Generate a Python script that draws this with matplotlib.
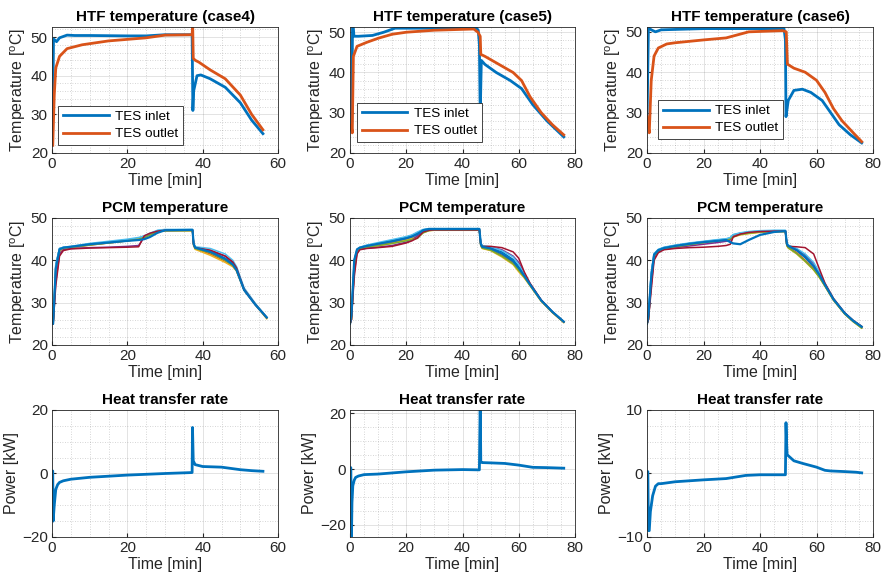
import matplotlib
matplotlib.use("Agg")
import matplotlib.pyplot as plt
from matplotlib.ticker import MultipleLocator

plt.rcParams['font.family'] = ['Liberation Sans', 'DejaVu Sans']
plt.rcParams['mathtext.fontset'] = 'custom'
plt.rcParams['mathtext.rm'] = 'Liberation Sans'

C_BLUE = '#0072BD'
C_ORANGE = '#D95319'
PCM_COLORS = ['#0072BD', '#D95319', '#EDB120', '#7E2F8E', '#77AC30', '#4DBEEE', '#A2142F', '#0072BD']

# ---------------- HTF temperature data ----------------
htf4_in_t = [0, 0.2, 0.4, 0.8, 1.2, 2, 4, 6, 10, 20, 25, 30, 37.2, 37.4, 37.6, 38.5, 39.5, 42, 46, 50, 53, 56]
htf4_in_T = [22, 30, 49.5, 49.2, 48.8, 49.8, 50.5, 50.4, 50.4, 50.3, 50.3, 50.6, 50.6, 31, 36, 40, 40.2, 39.2, 37, 33, 28.5, 25]
htf4_out_t = [0.2, 0.6, 1, 2, 4, 8, 15, 25, 30, 37.2, 37.35, 37.5, 38, 39, 42, 46, 50, 53, 56]
htf4_out_T = [22, 35, 42, 45, 47, 48, 49, 49.8, 50.5, 50.6, 53, 44.5, 44, 43.5, 41.5, 39.2, 35, 30, 26]

htf5_in_t = [0.6, 0.9, 1.1, 1.4, 3, 8, 12, 16, 30, 45, 45.6, 46.0, 46.3, 46.7, 48, 52, 57, 61, 65, 70, 76]
htf5_in_T = [26, 52, 52, 49, 49, 49.2, 50, 51, 51, 51, 50.5, 47, 29.5, 43, 42, 40, 38, 36, 32, 28, 24]
htf5_out_t = [0.2, 0.4, 0.8, 1.2, 2.5, 6, 10, 15, 20, 30, 44, 45.5, 46.3, 46.5, 48, 53, 58, 61, 64, 68, 72, 76]
htf5_out_T = [26, 27, 25, 44, 46.5, 47.5, 48.5, 49.5, 50, 50.5, 50.8, 50, 49, 44.5, 44, 42, 40, 38, 34, 30, 27, 24.5]

htf6_in_t = [0, 0.5, 1.5, 3, 5, 10, 20, 48.5, 49.0, 49.2, 50, 52, 55, 58, 62, 65, 68, 72, 76]
htf6_in_T = [27, 51, 50.5, 50, 50.5, 50.6, 50.8, 50.8, 48, 29, 33, 35.5, 35.8, 35, 33, 30, 27, 24.5, 22.5]
htf6_out_t = [0, 0.3, 0.8, 1.5, 2.5, 4, 7, 10, 20, 28, 36, 48, 49.3, 49.7, 52, 56, 60, 63, 66, 69, 73, 76]
htf6_out_T = [29, 27, 25, 38, 44, 46, 47, 47.3, 48, 48.5, 50, 50.3, 50, 42, 41, 40, 38, 35, 31, 28, 25, 22.8]

# ---------------- PCM temperature data ----------------
pcm4_t = [0, 0.3, 1, 2, 3, 5, 10, 15, 20, 23, 24.5, 26, 28, 30, 37.3, 37.6, 38, 42, 46, 48, 49, 51, 54, 57]
pcm4_T = [
    [25, 25, 39, 42.8, 43, 43.2, 43.8, 44.3, 44.8, 45.2, 45.6, 46.2, 47, 47.2, 47.2, 44, 43, 42.2, 40.5, 39.2, 37.8, 33, 29.5, 26.5],
    [25, 25, 37, 42, 42.8, 43, 43.6, 44.1, 44.6, 45, 45.4, 46, 46.8, 47, 47.1, 43.8, 42.8, 41.5, 39.8, 38.7, 37.5, 33, 29.6, 26.4],
    [25, 25, 37, 42, 42.7, 43, 43.7, 44.2, 44.7, 45.1, 45.5, 46.2, 46.8, 47, 47, 43.5, 42.6, 41.2, 39.5, 38.5, 37.5, 33, 29.5, 26.2],
    [25, 25, 35, 41.5, 42.5, 42.8, 43, 43.1, 43.3, 43.5, 45.5, 46.3, 46.9, 47.1, 47.1, 43.8, 43, 42.3, 41, 39.5, 38, 33, 29.5, 26.5],
    [25, 25, 38, 42.5, 42.9, 43.1, 43.6, 44.1, 44.6, 45.0, 45.4, 46, 46.8, 47, 47, 43.6, 42.8, 41.8, 40, 38.8, 37.6, 33, 29.6, 26.4],
    [25, 25, 39, 42.8, 43.1, 43.3, 44, 44.5, 45, 45.4, 45.8, 46.4, 47.1, 47.3, 47.3, 44.2, 43.2, 42.8, 41.5, 40, 38.5, 33.5, 29.8, 26.6],
    [25, 25, 34, 41, 42.3, 42.7, 42.9, 43, 43.1, 43.2, 45.8, 46.4, 46.9, 47.1, 47.1, 43.8, 43, 42.4, 41, 39.6, 38.2, 33.2, 29.6, 26.5],
    [25, 25, 38, 42.6, 43, 43.2, 43.8, 44.2, 44.6, 44.8, 45, 45.5, 46.5, 47.1, 47.2, 43.9, 43, 42, 40.3, 39, 37.7, 33, 29.5, 26.5],
]

pcm5_t = [0, 0.5, 1.5, 2.5, 3.5, 6, 10, 15, 20, 22, 24, 26, 28, 30, 46, 46.5, 47, 50, 54, 58, 60, 62, 64, 68, 72, 76]
pcm5_T = [
    [25, 27, 40, 42.5, 43, 43.5, 44, 44.6, 45.5, 45.9, 46.5, 47.2, 47.4, 47.4, 47.4, 44, 43.3, 43, 42, 40.2, 38.5, 36.5, 34.3, 30.5, 27.8, 25.5],
    [25, 26, 38, 42, 42.8, 43.2, 43.6, 44.2, 45, 45.5, 46.2, 47, 47.2, 47.3, 47.3, 43.6, 43, 42.5, 41.2, 39.5, 38, 36.2, 34.2, 30.5, 27.8, 25.4],
    [25, 26, 38, 42, 42.7, 43, 43.4, 44, 44.8, 45.2, 45.6, 46.5, 47, 47.1, 47.1, 43.4, 42.8, 42.3, 40.8, 39, 37.3, 35.8, 34, 30.3, 27.6, 25.3],
    [25, 26, 37, 41.8, 42.6, 42.9, 43.1, 43.5, 44.3, 44.8, 45.8, 46.8, 47.1, 47.2, 47.2, 43.8, 43.2, 43.1, 42.5, 41, 39.5, 37, 34.5, 30.6, 27.8, 25.5],
    [25, 26, 38, 42.2, 42.8, 43.1, 43.5, 44, 44.6, 44.9, 45.2, 46.5, 47, 47.2, 47.2, 43.5, 42.9, 42.4, 41, 39.2, 37.6, 36, 34.1, 30.4, 27.7, 25.4],
    [25, 27, 40, 42.6, 43.1, 43.6, 44.2, 44.9, 45.6, 46, 46.7, 47.3, 47.5, 47.5, 47.5, 44.2, 43.5, 43.2, 42.3, 40.8, 39, 36.8, 34.4, 30.6, 27.9, 25.6],
    [25, 26, 36, 41.5, 42.5, 42.8, 43, 43.3, 44.1, 44.6, 45.3, 46.7, 47.1, 47.2, 47.2, 43.8, 43.3, 43.3, 43, 42, 40.5, 37.2, 34.6, 30.6, 27.8, 25.5],
    [25, 27, 40, 42.6, 43, 43.4, 43.9, 44.5, 45.2, 45.6, 46.2, 47.1, 47.4, 47.4, 47.4, 43.9, 43.2, 42.8, 41.6, 39.8, 38.2, 36.3, 34.3, 30.5, 27.8, 25.5],
]

pcm6_t = [0, 0.5, 1.5, 2.5, 4, 6, 10, 15, 20, 25, 28, 29.5, 30.5, 33, 36, 40, 45, 49, 49.5, 50, 53, 56, 59, 61, 63, 66, 70, 73, 76]
pcm6_T = [
    [25, 27, 37, 41.5, 42.5, 43, 43.5, 44, 44.4, 44.8, 45, 45.3, 46, 46.4, 46.7, 46.9, 47, 47, 44, 43.5, 42.3, 40.6, 38.5, 36.5, 34.2, 30.8, 27.5, 25.7, 24.3],
    [25, 26, 35, 41, 42.3, 42.8, 43.3, 43.8, 44.2, 44.6, 44.9, 45.1, 45.7, 46.2, 46.5, 46.7, 46.8, 46.8, 43.6, 43.1, 41.8, 40, 38, 36.2, 34, 30.7, 27.4, 25.6, 24.2],
    [25, 26, 35, 41, 42.2, 42.7, 43.2, 43.7, 44.1, 44.5, 44.8, 45, 45.5, 46, 46.3, 46.6, 46.8, 46.8, 43.4, 42.9, 41.5, 39.7, 37.7, 36, 33.9, 30.6, 27.3, 25.5, 24],
    [25, 26, 34, 40.5, 42, 42.6, 43, 43.4, 43.8, 44.2, 44.5, 44.8, 45.8, 46.3, 46.6, 46.8, 46.9, 46.9, 43.8, 43.3, 42.6, 41.3, 39.2, 37, 34.3, 30.8, 27.5, 25.7, 24.3],
    [25, 26, 35, 41, 42.2, 42.8, 43.2, 43.7, 44.2, 44.6, 44.9, 45.1, 45.6, 46.1, 46.4, 46.7, 46.8, 46.8, 43.5, 43, 41.6, 39.8, 37.8, 36, 33.9, 30.6, 27.3, 25.5, 24],
    [25, 27, 37, 41.6, 42.6, 43.1, 43.6, 44.1, 44.5, 44.9, 45.1, 45.4, 46.1, 46.5, 46.8, 47, 47.1, 47.1, 44.2, 43.6, 42.8, 41.5, 39.5, 37.2, 34.5, 31, 27.6, 25.8, 24.4],
    [25, 26, 33, 40, 41.8, 42.5, 42.8, 43, 43.1, 43.3, 43.5, 43.8, 45.5, 46.2, 46.6, 46.8, 46.9, 46.9, 43.8, 43.3, 43.2, 43, 41.5, 38, 34.6, 31, 27.6, 25.8, 24.4],
    [25, 27, 36, 41.3, 42.4, 42.9, 43.4, 43.9, 44.3, 44.6, 44.8, 44.3, 44, 43.8, 44.8, 46, 46.7, 46.9, 43.9, 43.4, 42.4, 40.8, 38.6, 36.6, 34.2, 30.8, 27.5, 25.7, 24.3],
]

# ---------------- Heat transfer rate data ----------------
pow4_t = [0, 0.2, 0.3, 0.6, 1, 1.5, 2, 3, 5, 10, 20, 30, 37.2, 37.3, 37.5, 38, 40, 45, 50, 53, 56]
pow4_P = [0.8, 0.8, -15, -10, -5, -3.5, -2.8, -2.3, -1.8, -1.2, -0.5, 0, 0.3, 14.5, 4, 2.8, 2.2, 2, 1.2, 0.9, 0.7]

pow5_t = [0, 0.3, 0.5, 0.7, 1, 1.5, 2, 3, 5, 10, 20, 30, 40, 46, 46.3, 46.5, 47, 50, 55, 60, 65, 70, 76]
pow5_P = [0.5, 0.5, -26, -12, -6, -4, -3, -2.5, -2, -1.8, -1, -0.4, -0.2, -0.3, 25, 2.5, 2.3, 2.2, 2, 1.4, 0.6, 0.5, 0.3]

pow6_t = [0, 0.3, 0.5, 0.8, 1.2, 2, 3, 4, 5, 10, 20, 28, 35, 40, 49, 49.2, 49.4, 49.6, 50, 52, 55, 60, 63, 65, 70, 74, 76]
pow6_P = [0.3, 0.3, -9, -9, -6, -3.5, -2, -1.6, -1.6, -1.3, -1, -0.8, -0.3, -0.2, -0.2, 8, 5, 3, 2.8, 2, 1.6, 1, 0.5, 0.4, 0.3, 0.2, 0.1]

titles_top = ['HTF temperature (case4)', 'HTF temperature (case5)', 'HTF temperature (case6)']
xmax = [60, 80, 80]

W, H = 881, 584
fig = plt.figure(figsize=(W / 100, H / 100), dpi=100)

col_left = [52, 350, 647]
col_w = [226, 225, 226]
row_top = [27, 218, 410]
row_h = [126, 127, 127]

TXT = '#262626'


def make_ax(r, c):
    l = col_left[c] / W
    b = 1 - (row_top[r] + row_h[r]) / H
    ax = fig.add_axes([l, b, col_w[c] / W, row_h[r] / H])
    return ax


def style(ax, xm, ylim, ymaj, ymin, title, ylabel):
    ax.set_xlim(0, xm)
    ax.set_ylim(*ylim)
    ax.xaxis.set_major_locator(MultipleLocator(20))
    ax.xaxis.set_minor_locator(MultipleLocator(5))
    ax.yaxis.set_major_locator(MultipleLocator(ymaj))
    ax.yaxis.set_minor_locator(MultipleLocator(ymin))
    ax.grid(which='major', color=TXT, alpha=0.15, lw=0.6)
    ax.grid(which='minor', color=TXT, alpha=0.25, lw=0.6, ls=(0, (1, 2)))
    ax.set_axisbelow(True)
    ax.tick_params(which='both', direction='in', colors=TXT, labelsize=11, length=3, pad=3)
    ax.tick_params(which='minor', length=0)
    for s in ax.spines.values():
        s.set_color(TXT)
        s.set_linewidth(0.6)
    ax.set_title(title, fontsize=11, fontweight='bold', color='black', pad=4)
    ax.set_xlabel('Time [min]', fontsize=11.5, color=TXT, labelpad=1)
    ax.set_ylabel(ylabel, fontsize=11.5, color=TXT, labelpad=2)


ylab_T = r'Temperature [$^{\mathrm{o}}$C]'

# Row 1
htf = [(htf4_in_t, htf4_in_T, htf4_out_t, htf4_out_T),
       (htf5_in_t, htf5_in_T, htf5_out_t, htf5_out_T),
       (htf6_in_t, htf6_in_T, htf6_out_t, htf6_out_T)]
ytops = [52.6, 51.3, 51.2]
leg_anchor = [(0.027, 0.063), (0.031, 0.087), (0.049, 0.11)]
for c in range(3):
    ax = make_ax(0, c)
    ti, Ti, to, To = htf[c]
    ax.plot(ti, Ti, color=C_BLUE, lw=2, label='TES inlet')
    ax.plot(to, To, color=C_ORANGE, lw=2, label='TES outlet')
    style(ax, xmax[c], (20, ytops[c]), 10, 2, titles_top[c], ylab_T)
    leg = ax.legend(loc='lower left', bbox_to_anchor=leg_anchor[c], fontsize=9.7,
                    frameon=True, fancybox=False, edgecolor=TXT, framealpha=1,
                    handlelength=3.4, handletextpad=0.5, borderpad=0.35,
                    labelspacing=0.35, borderaxespad=0)
    leg.get_frame().set_linewidth(0.6)

# Row 2
pcm = [(pcm4_t, pcm4_T), (pcm5_t, pcm5_T), (pcm6_t, pcm6_T)]
for c in range(3):
    ax = make_ax(1, c)
    t, Ts = pcm[c]
    for i, T in enumerate(Ts):
        ax.plot(t, T, color=PCM_COLORS[i], lw=1.1 if i < 7 else 1.6)
    style(ax, xmax[c], (20, 50), 10, 2, 'PCM temperature', ylab_T)

# Row 3
pw = [(pow4_t, pow4_P, (-20, 20), 20, 5),
      (pow5_t, pow5_P, (-24.3, 21.1), 20, 5),
      (pow6_t, pow6_P, (-10, 10), 10, 2.5)]
for c in range(3):
    ax = make_ax(2, c)
    t, P, yl, ym, ymn = pw[c]
    ax.plot(t, P, color=C_BLUE, lw=2)
    style(ax, xmax[c], yl, ym, ymn, 'Heat transfer rate', 'Power [kW]')

fig.savefig('out.png', dpi=100, facecolor='white')
